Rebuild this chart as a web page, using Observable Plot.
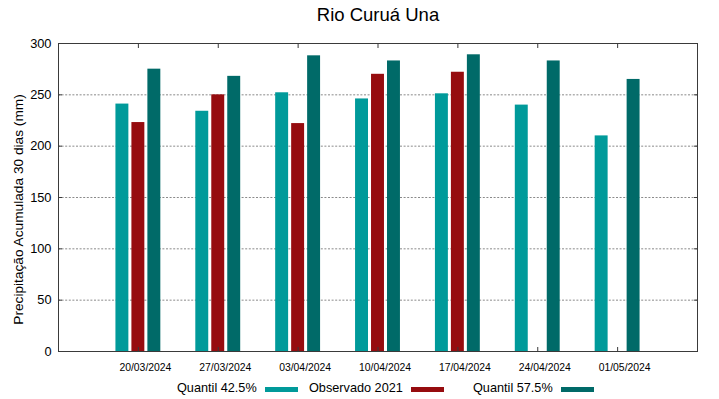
<!DOCTYPE html>
<html><head><meta charset="utf-8">
<script src="https://cdn.jsdelivr.net/npm/d3@7"></script>
<script src="https://cdn.jsdelivr.net/npm/@observablehq/plot@0.6"></script>
<style>
body{margin:0;background:#fff;font-family:"Liberation Sans",Arial,sans-serif;color:#000;}
#wrap{position:relative;width:719px;height:399px;overflow:hidden;background:#fff;}
#title{height:30px;line-height:30px;font-size:18.5px;text-align:center;padding-left:37px;box-sizing:border-box;width:719px;}
#chart svg{display:block;}
#legend{position:relative;height:23px;width:719px;font-size:12.7px;}
.item{position:absolute;top:0;height:23px;display:flex;align-items:center;white-space:nowrap;}
.sw{display:inline-block;width:33px;height:5px;margin-left:8px;position:relative;top:1.5px;}
</style></head>
<body>
<div id="wrap">
  <div id="title">Rio Curuá Una</div>
  <div id="chart"></div>
  <div id="legend"></div>
</div>
<script>
// ---- data ----
const dates = ["20/03/2024", "27/03/2024", "03/04/2024", "10/04/2024", "17/04/2024", "24/04/2024", "01/05/2024"];
const quantil425 = [241, 234, 252, 246, 251, 240, 210];
const observado2021 = [223, 250, 222, 270, 272, null, null];
const quantil575 = [275, 268, 288, 283, 289, 283, 265];
const seriesNames = ["Quantil 42.5%", "Observado 2021", "Quantil 57.5%"];
const seriesColors = ["#009a9a", "#960c0f", "#006a68"];
const yTicks = [0, 50, 100, 150, 200, 250, 300];
const yGrid = [50, 100, 150, 200, 250];

// ---- build table ----
const seriesValues = [quantil425, observado2021, quantil575];
const rows = [];
seriesValues.forEach((vals, s) => {
  vals.forEach((v, i) => {
    if (v != null) rows.push({i, s, name: seriesNames[s], value: v});
  });
});
const xIdx = dates.map((d, i) => i);
const groupOffset = 0.2, barHalf = 0.081;

function hasFont(name) {
  const c = document.createElement("canvas").getContext("2d");
  const t = "20/03/2024 abcWxyz";
  c.font = "40px monospace";
  const a = c.measureText(t).width;
  c.font = `40px '${name}', monospace`;
  return c.measureText(t).width !== a;
}
const narrow = hasFont("Liberation Sans Narrow");
const xFontFamily = narrow ? "'Liberation Sans Narrow'" : "'Liberation Sans', Arial, sans-serif";
const xFontSize = narrow ? 12.7 : 10.4;

const chart = Plot.plot({
  width: 719,
  height: 346,
  marginTop: 13,
  marginBottom: 25,
  marginLeft: 58,
  marginRight: 22,
  style: {fontFamily: "'Liberation Sans', Arial, sans-serif", fontSize: "12.8px", color: "#000", background: "#fff"},
  x: {type: "linear", domain: [-1, dates.length], label: null},
  y: {domain: [0, 300], label: null},
  color: {domain: seriesNames, range: seriesColors},
  marks: [
    Plot.gridY(yGrid, {stroke: "#8a8a8a", strokeOpacity: 1, strokeWidth: 1, strokeDasharray: "2,1.6"}),
    Plot.rectY(rows, {
      x1: d => d.i + (d.s - 1) * groupOffset - barHalf,
      x2: d => d.i + (d.s - 1) * groupOffset + barHalf,
      y: "value",
      fill: "name"
    }),
    Plot.frame({stroke: "#3a3a3a", strokeWidth: 1}),
    // inward tick marks (gnuplot style, mirrored)
    Plot.axisX({anchor: "top", ticks: xIdx, tickSize: 4, dy: 4, tickFormat: () => "", label: null, stroke: "#3a3a3a"}),
    Plot.axisX({anchor: "bottom", ticks: xIdx, tickSize: 4, dy: -4, tickFormat: () => "", label: null, stroke: "#3a3a3a"}),
    Plot.axisY({anchor: "left", ticks: yTicks, tickSize: 4, dx: 4, tickFormat: () => "", label: null, stroke: "#3a3a3a"}),
    Plot.axisY({anchor: "right", ticks: yTicks, tickSize: 4, dx: -4, tickFormat: () => "", label: null, stroke: "#3a3a3a"}),
    // labels
    Plot.axisX({anchor: "bottom", ticks: xIdx, tickSize: 0, tickPadding: narrow ? 11.8 : 12.6, dx: 7,
      tickFormat: i => dates[i], label: null, fontSize: xFontSize, fontFamily: xFontFamily, fill: "#000"}),
    Plot.axisY({anchor: "left", ticks: yTicks, tickSize: 0, tickPadding: 7, tickFormat: d => String(d), label: null, fontSize: 12.8, fill: "#000"}),
    Plot.text(["Precipitação Acumulada 30 dias (mm)"], {frameAnchor: "left", textAnchor: "middle", lineAnchor: "middle", text: d => d, rotate: -90, dx: -40, dy: 12, fontSize: 13.7, fill: "#000"})
  ]
});
document.getElementById("chart").appendChild(chart);

// ---- legend ----
const legend = document.getElementById("legend");
const legendLeft = [177, 309, 473];
seriesNames.forEach((name, s) => {
  const it = document.createElement("div");
  it.className = "item";
  it.style.left = legendLeft[s] + "px";
  const t = document.createElement("span");
  t.textContent = name;
  const sw = document.createElement("span");
  sw.className = "sw";
  sw.style.background = seriesColors[s];
  it.appendChild(t);
  it.appendChild(sw);
  legend.appendChild(it);
});
</script>
</body></html>
